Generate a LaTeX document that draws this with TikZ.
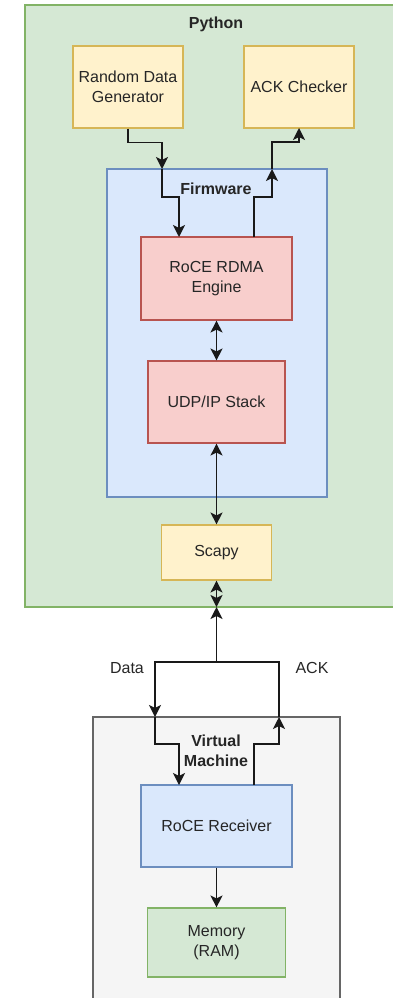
\documentclass[tikz,border=0pt]{standalone}
\usepackage{fontspec}
\setmainfont{Liberation Sans}
\usetikzlibrary{arrows.meta,calc}
\definecolor{gfill}{HTML}{D5E8D4}\definecolor{gline}{HTML}{82B366}
\definecolor{yfill}{HTML}{FFF2CC}\definecolor{yline}{HTML}{D6B656}
\definecolor{bfill}{HTML}{DAE8FC}\definecolor{bline}{HTML}{6C8EBF}
\definecolor{rfill}{HTML}{F8CECC}\definecolor{rline}{HTML}{B85450}
\definecolor{vfill}{HTML}{F5F5F5}\definecolor{vline}{HTML}{666666}
\definecolor{txt}{HTML}{262626}
\begin{document}
\begin{tikzpicture}[x=1pt,y=-1pt,
  every node/.style={font=\fontsize{16}{20}\selectfont, text=txt, align=center, inner sep=0pt},
  box/.style={draw, line width=1.1pt},
  gbox/.style={box, fill=gfill, draw=gline},
  ybox/.style={box, fill=yfill, draw=yline},
  bbox/.style={box, fill=bfill, draw=bline},
  rbox/.style={box, fill=rfill, draw=rline},
  vbox/.style={box, fill=vfill, draw=vline},
  ttl/.style={font=\fontsize{16}{20}\selectfont\bfseries},
  conn/.style={line width=1.4pt, draw=black!90},
  arr/.style={conn, -{Stealth[length=12pt,width=12pt,inset=3pt]}},
  darr/.style={conn, {Stealth[length=12pt,width=12pt,inset=3pt]}-{Stealth[length=12pt,width=12pt,inset=3pt]}}
]
\useasboundingbox (0,0) rectangle (393,998);
\begin{scope}
\clip (0,0) rectangle (393,998);
\node[gbox, minimum width=382pt, minimum height=602pt] (python) at (216,306) {};
\node[vbox, minimum width=247pt, minimum height=300pt] (vm) at (216.5,867) {};
\end{scope}
\node[ttl] (pylbl) at (216,24) {Python};
\node[ybox, minimum width=110pt, minimum height=82pt] (rdg) at (128,87) {Random Data\\Generator};
\node[ybox, minimum width=110pt, minimum height=82pt] (ack) at (299,87) {ACK Checker};
\node[bbox, minimum width=220pt, minimum height=328pt] (fw) at (217,333) {};
\node[ttl] (fwlbl) at (216,189) {Firmware};
\node[rbox, minimum width=151pt, minimum height=83pt] (rre) at (216.5,278.5) {RoCE RDMA\\Engine};
\node[rbox, minimum width=137pt, minimum height=82pt] (udp) at (216.5,402) {UDP/IP Stack};
\node[ybox, minimum width=110pt, minimum height=55pt] (scapy) at (216.5,552.5) {Scapy};
\node[ttl] (vmlbl) at (216,751) {Virtual\\Machine};
\node[bbox, minimum width=151pt, minimum height=82pt] (rec) at (216.5,826) {RoCE Receiver};
\node[gbox, minimum width=138pt, minimum height=69pt] (mem) at (216.5,942.5) {Memory\\(RAM)};
\node (datalbl) at (127,668) {Data};
\node (acklbl) at (312,668) {ACK};

\coordinate (fwin) at (162,169);
\coordinate (fwout) at (272,169);
\coordinate (rrein) at (179,237);
\coordinate (rreout) at (254,237);
\coordinate (ackin) at (299,128);
\coordinate (pybot) at (216.5,607);
\coordinate (split) at (216.5,662);
\coordinate (vmin) at (155,717);
\coordinate (vmout) at (279,717);
\coordinate (recin) at (179,785);
\coordinate (recout) at (254,785);

\draw[arr] (rdg.south) -- ++(0,14) -| (fwin);
\draw[arr] (fwin) -- ++(0,28) -| (rrein);
\draw[arr] (rreout) -- ++(0,-40) -| (fwout);
\draw[arr] (fwout) -- ++(0,-27) -| (ackin);
\draw[darr] (rre.south) -- (udp.north);
\draw[darr] (udp.south) -- (scapy.north);
\draw[darr] (scapy.south) -- (pybot);
\draw[arr] (split) -- (pybot);
\draw[arr] (split) -| (vmin);
\draw[arr] (vmin) -- ++(0,27) -| (recin);
\draw[arr] (recout) -- ++(0,-41) -| (vmout);
\draw[conn] (vmout) |- (split);
\draw[arr] (rec.south) -- (mem.north);
\end{tikzpicture}
\end{document}
